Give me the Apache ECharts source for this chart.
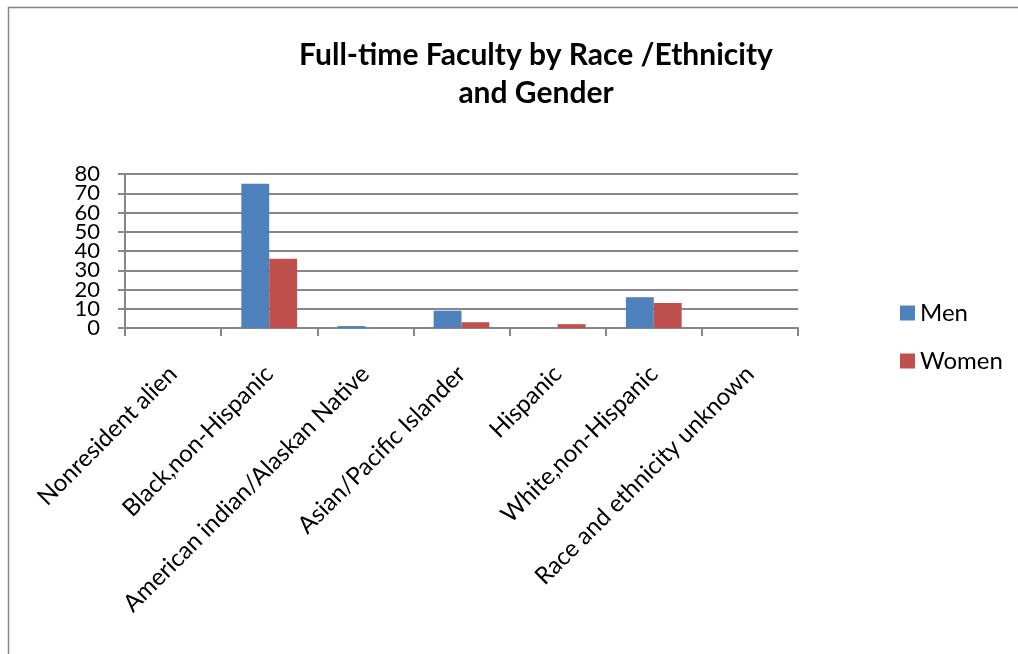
<!DOCTYPE html>
<html>
<head>
<meta charset="utf-8">
<script src="https://cdn.jsdelivr.net/npm/echarts@6/dist/echarts.min.js"></script>
<style>
  html, body { margin: 0; padding: 0; background: #fff; }
  #main { width: 1018px; height: 654px; }
</style>
</head>
<body>
<div id="main"></div>
<script>
const categories = [
  'Nonresident alien',
  'Black,non-Hispanic',
  'American indian/Alaskan Native',
  'Asian/Pacific Islander',
  'Hispanic',
  'White,non-Hispanic',
  'Race and ethnicity unknown'
];
const men = [0, 75, 1, 9, 0, 16, 0];
const women = [0, 36, 0, 3, 2, 13, 0];
const yMin = 0;
const yMax = 80;
const yStep = 10;

const myChart = echarts.init(document.getElementById('main'));
const font = 'Lato, "Open Sans", sans-serif';
const gray = '#878787';

// the tick labels sit closer than their font height, so even and odd
// labels go on two overlaid axes to keep ECharts from dropping any
const yLabel = (keepOdd) => ({
  fontSize: 22, color: '#000', margin: 25,
  showMinLabel: true, showMaxLabel: true,
  formatter: v => ((v / yStep) % 2 === 1) === keepOdd ? String(v) : ''
});

const option = {
  animation: false,
  textStyle: { fontFamily: font },
  graphic: [{
    type: 'rect',
    shape: { x: 8.5, y: 7.5, width: 1100, height: 700 },
    style: { fill: 'none', stroke: gray, lineWidth: 1.5 }
  }],
  title: {
    text: 'Full-time Faculty by Race /Ethnicity\nand Gender',
    left: 531,
    top: 31,
    textAlign: 'center',
    textStyle: { fontFamily: font, fontSize: 30, fontWeight: 'bold', color: '#000', lineHeight: 38 }
  },
  legend: {
    orient: 'vertical',
    left: 895,
    top: 296,
    itemWidth: 15,
    itemHeight: 15,
    itemGap: 24,
    icon: 'rect',
    textStyle: { fontFamily: font, fontSize: 24, color: '#000' },
    data: ['Men', 'Women']
  },
  grid: { left: 125, right: 220, top: 174, bottom: 326 },
  xAxis: {
    type: 'category',
    data: categories,
    axisLine: { lineStyle: { color: gray, width: 2 } },
    axisTick: { show: true, length: 8, lineStyle: { color: gray, width: 2 } },
    axisLabel: { rotate: 45, fontSize: 24, color: '#000', margin: 42, interval: 0 }
  },
  yAxis: [
    {
      type: 'value',
      min: yMin,
      max: yMax,
      interval: yStep,
      axisLine: { show: true, lineStyle: { color: gray, width: 2 } },
      axisTick: { show: true, length: 7, lineStyle: { color: gray, width: 2 } },
      splitLine: { lineStyle: { color: gray, width: 2 } },
      axisLabel: yLabel(false)
    },
    {
      type: 'value',
      position: 'left',
      min: yMin,
      max: yMax,
      interval: yStep,
      axisLine: { show: false },
      axisTick: { show: false },
      splitLine: { show: false },
      axisLabel: yLabel(true)
    }
  ],
  series: [
    {
      name: 'Men',
      type: 'bar',
      data: men,
      barGap: '0%',
      barCategoryGap: '42%',
      itemStyle: { color: '#4f81bd' }
    },
    {
      name: 'Women',
      type: 'bar',
      data: women,
      itemStyle: { color: '#c0504d' }
    }
  ]
};
myChart.setOption(option);
</script>
</body>
</html>
